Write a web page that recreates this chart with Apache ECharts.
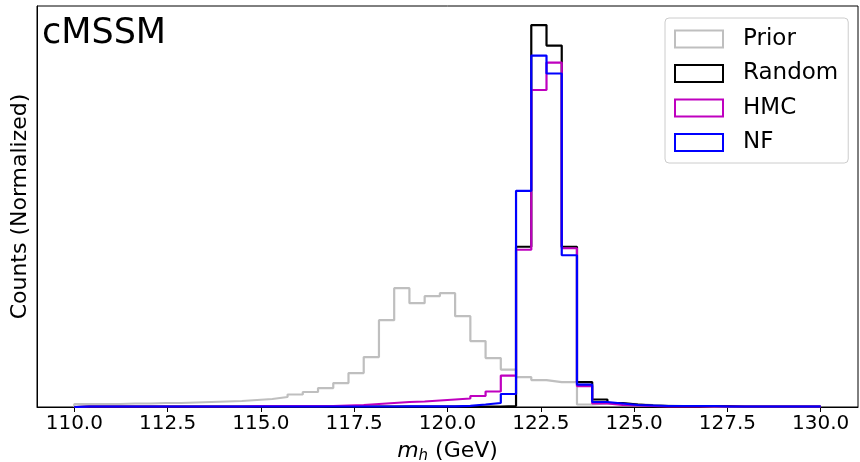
<!DOCTYPE html>
<html>
<head>
<meta charset="utf-8">
<script src="https://cdn.jsdelivr.net/npm/echarts@6/dist/echarts.min.js"></script>
<style>
html,body{margin:0;padding:0;background:#fff;}
#chart{width:860px;height:462px;}
</style>
</head>
<body>
<div id="chart"></div>
<script>
// Histogram bin specification (49 equal bins between 110 and 130 GeV)
const binStart = 110;
const binEnd = 130;
const nBins = 49;

// Tick labels on the x axis
const tickValues = [110, 112.5, 115, 117.5, 120, 122.5, 125, 127.5, 130];

// Series names
const seriesNames = ['Prior', 'Random', 'HMC', 'NF'];

// Bin heights (normalized counts, arbitrary units)
const priorCounts = [
  3, 3, 3, 3.5, 3.5, 4, 4, 4.5, 5, 5.5,
  6, 7, 8, 10, 12.5, 15, 19, 24, 34, 50,
  87, 119, 104, 111, 114, 91, 66, 49, 37.5, 30,
  27, 25, 25, 2.5, 3.5, 3.5, 3, 2, 1.5, 1,
  1, 0.5, 0.5, 0.5, 0.5, 0.5, 0.5, 0.5, 0.5
];
const randomCounts = [
  0.3, 0.3, 0.3, 0.3, 0.3, 0.3, 0.3, 0.3, 0.3, 0.3,
  0.3, 0.3, 0.3, 0.3, 0.3, 0.3, 0.3, 0.3, 0.3, 0.3,
  0.3, 0.5, 0.5, 0.5, 0.5, 0.5, 0.5, 0.5, 1, 160.5,
  382.5, 362, 160.5, 25, 7.5, 4, 2.5, 1.5, 1, 1,
  1, 1, 1, 0.5, 0.5, 0.5, 0.5, 0.5, 0.5
];
const hmcCounts = [
  0.5, 0.5, 0.5, 0.5, 0.5, 0.5, 0.5, 0.5, 0.5, 0.5,
  0.5, 0.8, 0.8, 0.8, 0.8, 0.8, 1, 1.5, 2, 3,
  4, 5, 5.5, 6.5, 7.5, 8.5, 11, 15.5, 31.5, 157.5,
  317.5, 345, 159, 21, 3.5, 2, 1.5, 1, 0.5, 0.5,
  0.5, 0.5, 0.5, 0.5, 0.5, 0.5, 0.5, 0.5, 0.5
];
const nfCounts = [
  0.5, 0.5, 0.5, 0.5, 0.5, 0.5, 0.5, 0.5, 0.5, 0.5,
  0.5, 0.5, 0.5, 0.5, 0.5, 0.5, 0.5, 0.5, 0.5, 0.5,
  0.5, 0.7, 0.7, 0.7, 0.7, 1.2, 2.5, 4, 13, 216.5,
  352, 334, 152, 22.5, 5, 3.5, 2, 1.5, 1, 1,
  1, 1, 0.5, 0.5, 0.5, 0.5, 0.5, 0.5, 0.5
];

const colors = ['#bfbfbf', '#000000', '#bf00bf', '#0000ff'];
const allCounts = [priorCounts, randomCounts, hmcCounts, nfCounts];

const edges = [];
for (let k = 0; k <= nBins; k++) edges.push(binStart + k * (binEnd - binStart) / nBins);

function stepOutline(h) {
  const pts = [[edges[0], 0]];
  h.forEach((v, k) => { pts.push([edges[k], v]); pts.push([edges[k + 1], v]); });
  pts.push([edges[nBins], 0]);
  return pts;
}

const FONT = 'DejaVu Sans';
const maxCount = Math.max(...allCounts.map(a => Math.max(...a)));

const chart = echarts.init(document.getElementById('chart'), null, {renderer: 'canvas'});
chart.setOption({
  animation: false,
  backgroundColor: '#ffffff',
  grid: {left: 37, right: 2, top: 6, bottom: 55, show: true, borderColor: '#000', borderWidth: 1,
    backgroundColor: 'transparent', containLabel: false, outerBoundsMode: 'none'},
  xAxis: {
    type: 'value', min: 109, max: 131,
    splitLine: {show: false},
    axisLine: {show: true, lineStyle: {color: '#000', width: 1}},
    axisTick: {show: true, length: 5, lineStyle: {color: '#000', width: 1}, customValues: tickValues},
    axisLabel: {show: true, customValues: tickValues, formatter: v => Number(v).toFixed(1), fontFamily: FONT, fontSize: 20, color: '#000', margin: 7},
    name: '{i|m}{s|h} (GeV)', nameLocation: 'middle', nameGap: 32,
    nameTextStyle: {fontFamily: FONT, fontSize: 22, color: '#000',
      rich: {
        i: {fontFamily: FONT, fontSize: 22, fontStyle: 'italic', color: '#000'},
        s: {fontFamily: FONT, fontSize: 15, fontStyle: 'italic', color: '#000', padding: [10, 0, 0, 0]}
      }}
  },
  yAxis: {
    type: 'value', min: 0, max: maxCount * 1.05,
    splitLine: {show: false},
    axisLine: {show: true, lineStyle: {color: '#000', width: 1}},
    axisTick: {show: false}, axisLabel: {show: false},
    name: 'Counts (Normalized)', nameLocation: 'middle', nameRotate: 90, nameGap: 6,
    nameTextStyle: {fontFamily: FONT, fontSize: 22, color: '#000'}
  },
  legend: {
    orient: 'vertical', left: 665, top: 18,
    padding: [9.5, 10, 9, 9], itemGap: 11.5,
    itemWidth: 48, itemHeight: 17, icon: 'rect',
    backgroundColor: 'rgba(255,255,255,0.8)', borderColor: '#cccccc', borderWidth: 1, borderRadius: 4,
    textStyle: {fontFamily: FONT, fontSize: 23, color: '#000', padding: [0, 0, 0, 15]},
    data: seriesNames.map((n, i) => ({name: n, itemStyle: {color: 'rgba(0,0,0,0)', borderColor: colors[i], borderWidth: 2}}))
  },
  graphic: [{
    type: 'text', left: 42, top: 16,
    style: {text: 'cMSSM', font: '35px "DejaVu Sans"', fill: '#000'}
  }],
  series: seriesNames.map((n, i) => ({
    name: n, type: 'line', data: stepOutline(allCounts[i]),
    showSymbol: false, symbol: 'none', silent: true,
    lineStyle: {color: colors[i], width: 2.2},
    itemStyle: {color: colors[i]},
    z: 2 + i
  }))
});
</script>
</body>
</html>
